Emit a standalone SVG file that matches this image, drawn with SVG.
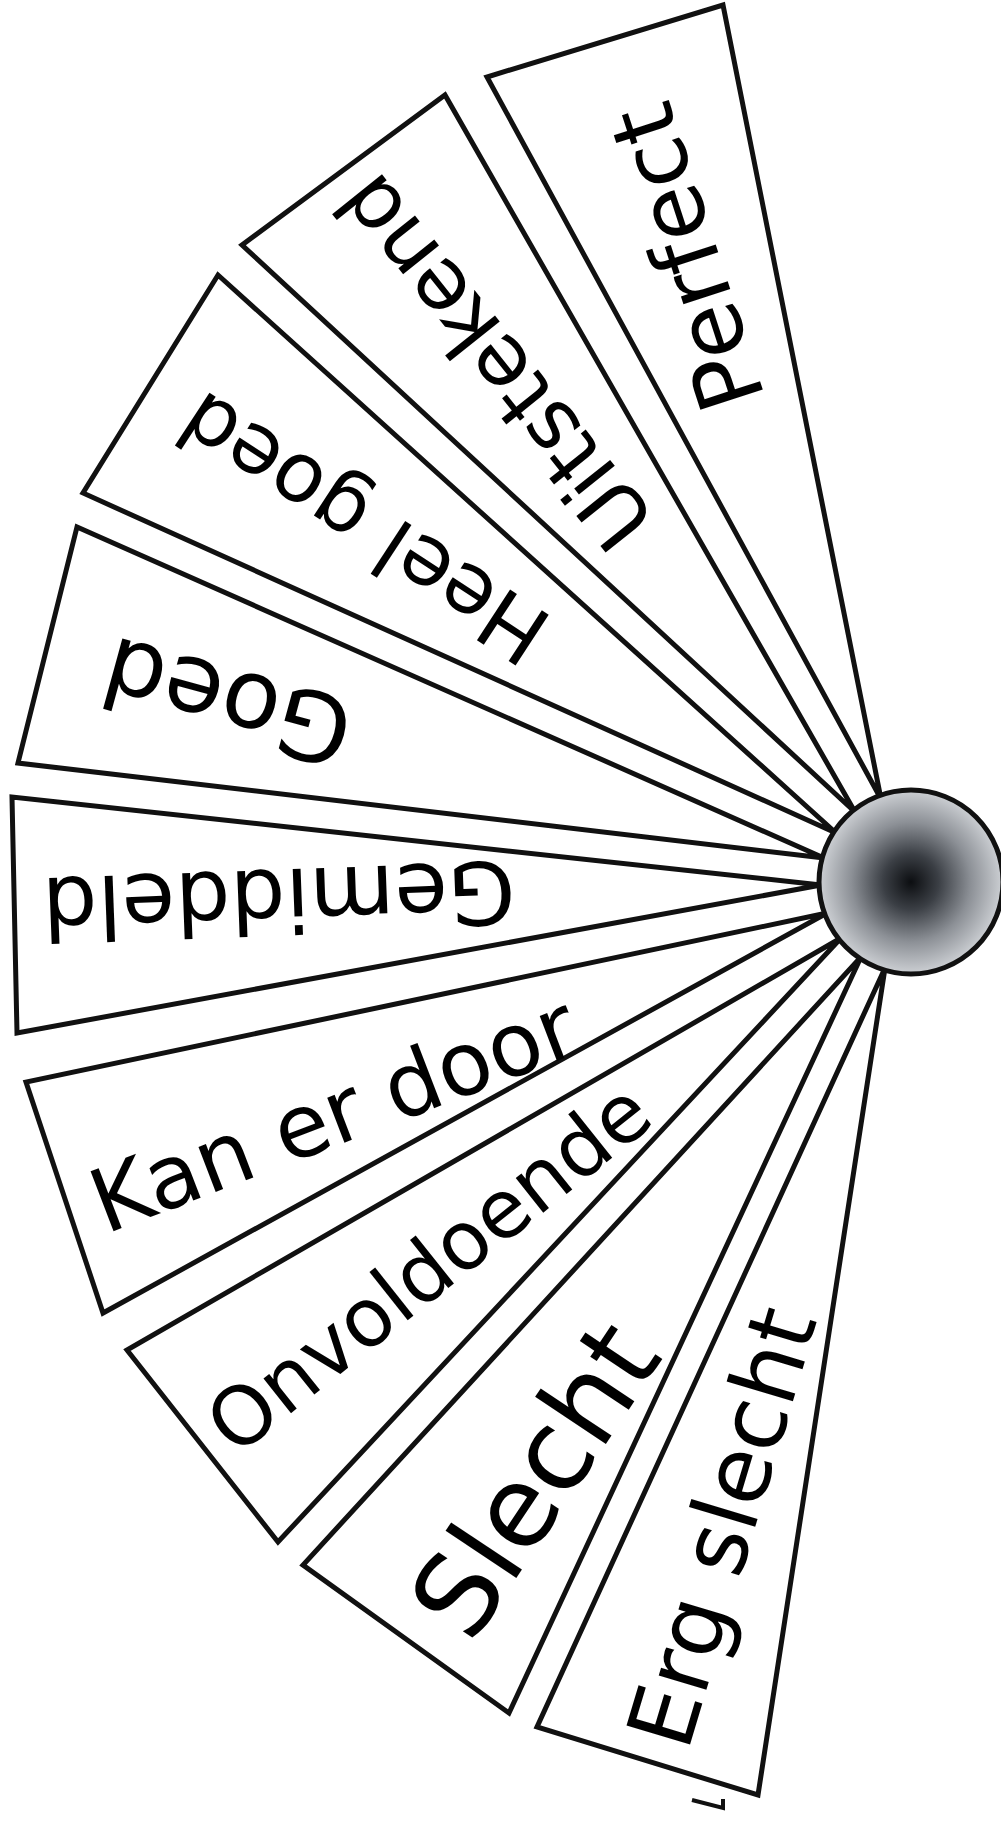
<svg xmlns="http://www.w3.org/2000/svg" width="1001" height="1823" viewBox="0 0 1001 1823">
<style>
.w{fill:#fff;stroke:#111;stroke-width:5;stroke-linejoin:miter}
.t{font-family:"DejaVu Sans",sans-serif;fill:#000;text-anchor:middle}
</style>
<defs>
<radialGradient id="g" cx="0.5" cy="0.5" r="0.5">
<stop offset="0" stop-color="#0c0e11"/>
<stop offset="0.3" stop-color="#3b3f45"/>
<stop offset="0.65" stop-color="#8c9096"/>
<stop offset="1" stop-color="#cdd0d4"/>
</radialGradient>
</defs>
<rect width="1001" height="1823" fill="#fff"/>
<g id="connectors"></g>
<g id="perfect"><polygon class="w" points="881,799 487,77 723,5"/><text class="t" font-size="90" dy="0.36em" transform="translate(686,258) rotate(-108)">Perfect</text></g>
<g id="uitstekend"><polygon class="w" points="855,812 242,245 445,95"/><text class="t" font-size="84" dy="0.36em" transform="translate(494,363) rotate(-128.6)">Uitstekend</text></g>
<g id="heel-goed"><polygon class="w" points="836,833 83,493 218,275"/><text class="t" font-size="83" dy="0.36em" transform="translate(363,529) rotate(-146.8)">Heel goed</text></g>
<g id="goed"><polygon class="w" points="824,858 18,763 77,527"/><text class="t" font-size="96" dy="0.36em" transform="translate(227,703) rotate(-164.7)">Goed</text></g>
<g id="gemiddeld"><polygon class="w" points="821,885 12,797 17,1033"/><text class="t" font-size="87" dy="0.36em" transform="translate(279,901) rotate(177.9)">Gemiddeld</text></g>
<g id="kan-er-door"><polygon class="w" points="827,913 26,1082 103,1313"/><text class="t" font-size="88" dy="0.36em" transform="translate(333,1113) rotate(-21)">Kan er door</text></g>
<g id="onvoldoende"><polygon class="w" points="841,938 127,1350 278,1542"/><text class="t" font-size="81" dy="0.36em" transform="translate(428,1267) rotate(-38.5)">Onvoldoende</text></g>
<g id="slecht"><polygon class="w" points="861,957 303,1565 509,1713"/><text class="t" font-size="112" dy="0.36em" transform="translate(534,1479) rotate(-56.3)">Slecht</text></g>
<g id="erg-slecht"><polygon class="w" points="885,968 537,1727 758,1795"/><text class="t" font-size="91" dy="0.36em" transform="translate(721,1527) rotate(-73.3)">Erg slecht</text></g>
<g id="fragment"><polyline points="692,1800 723,1808 723,1799" fill="none" stroke="#111" stroke-width="4"/></g>
<g id="pivot"><circle cx="911" cy="882" r="92" fill="url(#g)" stroke="#111" stroke-width="5"/></g>
</svg>
